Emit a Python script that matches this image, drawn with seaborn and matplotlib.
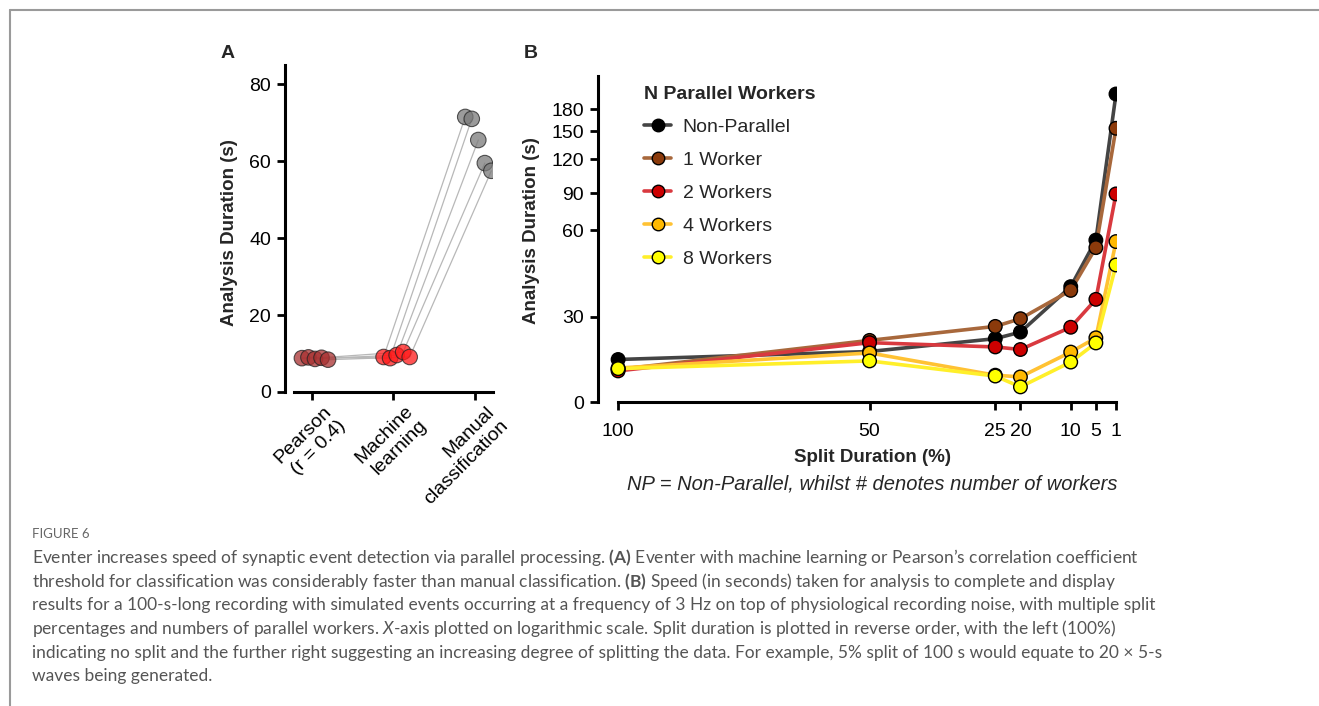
import numpy as np
import pandas as pd
import matplotlib
matplotlib.use("Agg")
import matplotlib.pyplot as plt
import matplotlib.transforms as mtransforms
import seaborn as sns
from matplotlib.lines import Line2D

# Panel A - analysis duration (s) per classification method, 5 paired runs
methods = ['Pearson\n(r = 0.4)', 'Machine\nlearning', 'Manual\nclassification']
pearson_dur = [8.8, 9.0, 8.6, 8.9, 8.4]
ml_dur = [9.1, 8.8, 9.6, 10.4, 9.1]
manual_dur = [71.5, 71.0, 65.5, 59.5, 57.5]

# Panel B - analysis duration (s) vs split duration (%)
split_pct = [100, 50, 25, 20, 10, 5, 1]
non_parallel = [15.0, 17.8, 22.3, 24.6, 40.4, 56.5, 205.0]
one_worker = [11.5, 21.7, 26.6, 29.3, 39.1, 53.9, 153.7]
two_workers = [11.0, 20.9, 19.4, 18.5, 26.3, 36.0, 89.5]
four_workers = [12.0, 17.3, 9.5, 8.9, 17.6, 22.6, 56.0]
eight_workers = [11.8, 14.5, 9.2, 5.4, 14.1, 20.8, 47.9]
worker_labels = ['Non-Parallel', '1 Worker', '2 Workers', '4 Workers', '8 Workers']
yticks_B = [0, 30, 60, 90, 120, 150, 180]

caption = [
    "Eventer increases speed of synaptic event detection via parallel processing. $\\mathbf{(A)}$ Eventer with machine learning or Pearson\u2019s correlation coefficient",
    "threshold for classification was considerably faster than manual classification. $\\mathbf{(B)}$ Speed (in seconds) taken for analysis to complete and display",
    "results for a 100-s-long recording with simulated events occurring at a frequency of 3 Hz on top of physiological recording noise, with multiple split",
    "percentages and numbers of parallel workers. $\\mathit{X}$-axis plotted on logarithmic scale. Split duration is plotted in reverse order, with the left (100%)",
    "indicating no split and the further right suggesting an increasing degree of splitting the data. For example, 5% split of 100 s would equate to 20 \u00d7 5-s",
    "waves being generated.",
]

sns.set_theme(style="ticks")
plt.rcParams['font.family'] = ['Liberation Sans', 'DejaVu Sans']
plt.rcParams['mathtext.fontset'] = 'custom'
plt.rcParams['mathtext.rm'] = 'Lato'
plt.rcParams['mathtext.bf'] = 'Lato:bold'
plt.rcParams['mathtext.it'] = 'Lato:italic'

W, H = 1319, 706
FS = 14
fig = plt.figure(figsize=(W / 100, H / 100), dpi=100)


def box(l, t, r, b):
    return [l / W, 1 - b / H, (r - l) / W, (b - t) / H]


def style_axes(ax):
    sns.despine(ax=ax)
    for s in ['left', 'bottom']:
        ax.spines[s].set_linewidth(2.2)
        ax.spines[s].set_color('black')
    ax.tick_params(length=6, width=2, labelsize=FS, color='black', labelcolor='black', pad=4)


# ---------------- Panel A ----------------
axA = fig.add_axes(box(285, 65, 493, 392))
offsets = np.linspace(-0.12, 0.2, 5)
dfA = pd.DataFrame({
    'method': np.repeat(methods, 5),
    'x': np.concatenate([i + offsets for i in range(3)]),
    'dur': pearson_dur + ml_dur + manual_dur,
})
for i in range(5):
    axA.plot([offsets[i], 1 + offsets[i], 2 + offsets[i]],
             [pearson_dur[i], ml_dur[i], manual_dur[i]],
             color='#b8b8b8', lw=0.9, zorder=1)
sns.scatterplot(data=dfA, x='x', y='dur', hue='method', ax=axA,
                palette=['#a83030', '#ff1a1a', '#7a7a7a'], s=125, alpha=0.75,
                edgecolor='#222222', linewidth=0.8, legend=False, zorder=3)
axA.set_xlim(-0.327, 2.22)
axA.set_ylim(0, 85)
axA.set_yticks([0, 20, 40, 60, 80])
axA.set_xticks(range(3))
axA.set_xticklabels(methods, rotation=45, ha='right', va='top',
                    rotation_mode='anchor', multialignment='right')
axA.set_xlabel('')
axA.set_ylabel('')
style_axes(axA)
axA.spines['left'].set_bounds(0, 85)
axA.spines['bottom'].set_bounds(-0.22, 2.22)
for lab in axA.get_xticklabels():
    lab.set_transform(mtransforms.offset_copy(lab.get_transform(), fig=fig,
                                              x=11, y=3, units='dots'))

# ---------------- Panel B ----------------
kv = [0, 30, 60, 90, 120, 150, 180, 240]
kp = [0, 85.6, 172.3, 209, 243.3, 271.3, 293.3, 329.3]


def fwd(v):
    return np.interp(v, kv, kp)


def inv(p):
    return np.interp(p, kp, kv)


axB = fig.add_axes(box(598, 76, 1117, 402.3))
series = [non_parallel, one_worker, two_workers, four_workers, eight_workers]
dfB = pd.DataFrame({
    'split': split_pct * 5,
    'dur': np.concatenate(series),
    'workers': np.repeat(worker_labels, len(split_pct)),
})
line_cols = ['#444444', '#a8683c', '#d9393f', '#ffc233', '#ffef2a']
mark_cols = ['#000000', '#8b3a0b', '#cc0000', '#ffb900', '#ffff00']
axB.set_yscale('function', functions=(fwd, inv))
sns.lineplot(data=dfB, x='split', y='dur', hue='workers', palette=line_cols,
             lw=2.6, legend=False, ax=axB, zorder=2)
sns.scatterplot(data=dfB, x='split', y='dur', hue='workers', palette=mark_cols,
                s=95, edgecolor='black', linewidth=1.0, legend=False, ax=axB, zorder=4)
axB.set_xlim(104, 0.8)
axB.set_ylim(0, 235)
axB.set_xticks(split_pct)
axB.set_xticklabels([str(v) for v in split_pct])
axB.set_yticks(yticks_B)
axB.set_yticklabels([str(v) for v in yticks_B])
axB.yaxis.set_minor_locator(matplotlib.ticker.NullLocator())
axB.set_xlabel('')
axB.set_ylabel('')
style_axes(axB)
axB.tick_params(axis='x', pad=9)
axB.spines['left'].set_bounds(0, 235)
axB.spines['bottom'].set_bounds(100, 1)

handles = [Line2D([0], [0], color=lc, lw=2.6, marker='o', markersize=9,
                  markerfacecolor=mc, markeredgecolor='black', markeredgewidth=1.0)
           for lc, mc in zip(line_cols, mark_cols)]
leg = axB.legend(handles, worker_labels, title='N Parallel Workers', loc='upper left',
                 bbox_to_anchor=(640 / W, 1 - 82 / H), bbox_transform=fig.transFigure,
                 frameon=False, fontsize=FS, handlelength=1.4, handletextpad=0.6,
                 labelspacing=0.79, borderaxespad=0, borderpad=0.2, alignment='left',
                 title_fontproperties={'weight': 'bold', 'size': FS})

# ---------------- labels ----------------
fig.text(228 / W, 1 - 53 / H, 'A', fontsize=14, fontweight='bold', ha='center', va='center')
fig.text(531 / W, 1 - 53 / H, 'B', fontsize=14, fontweight='bold', ha='center', va='center')
fig.text(229 / W, 1 - 233 / H, 'Analysis Duration (s)', rotation=90, fontsize=13.5,
         fontweight='bold', ha='center', va='center')
fig.text(532 / W, 1 - 231 / H, 'Analysis Duration (s)', rotation=90, fontsize=13.5,
         fontweight='bold', ha='center', va='center')
fig.text(873 / W, 1 - 458 / H, 'Split Duration (%)', fontsize=13.5, fontweight='bold',
         ha='center', va='center')
fig.text(872 / W, 1 - 484 / H, 'NP = Non-Parallel, whilst # denotes number of workers',
         fontsize=14.5, fontstyle='italic', ha='center', va='center')

# caption
fig.text(32 / W, 1 - 538 / H, 'FIGURE 6', family='Lato', fontsize=9.5, color='#666666',
         va='baseline', ha='left')
for i, line in enumerate(caption):
    fig.text(32 / W, 1 - (563 + 23.7 * i) / H, line, family='Lato', fontsize=12.5,
             color='#555555', va='baseline', ha='left')

# frame
fig.add_artist(Line2D([10 / W, 10 / W], [0, 1 - 10 / H], transform=fig.transFigure,
                      color='#9a9a9a', lw=1.5))
fig.add_artist(Line2D([10 / W, 1], [1 - 10 / H, 1 - 10 / H], transform=fig.transFigure,
                      color='#9a9a9a', lw=1.5))

fig.savefig('out.png', dpi=100)
